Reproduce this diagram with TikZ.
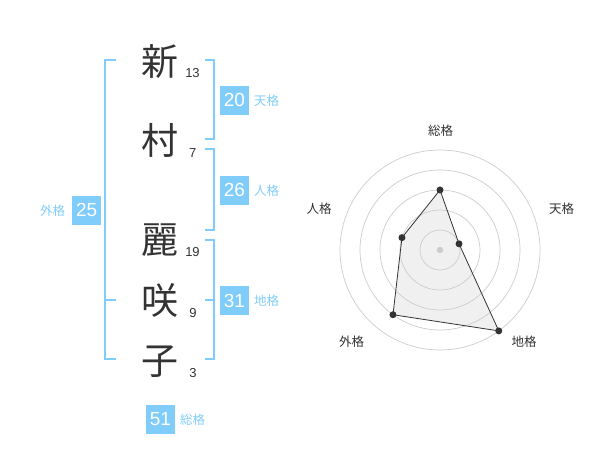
\documentclass[tikz,border=0pt]{standalone}
\usepackage{fontspec}
\setmainfont{Liberation Sans}
\newfontfamily\jfont{Noto Sans CJK JP}
\usetikzlibrary{calc, positioning}

\definecolor{kakublue}{RGB}{128, 204, 250}
\definecolor{inkgray}{RGB}{51, 51, 51}
\definecolor{ringgray}{RGB}{204, 204, 204}

\tikzset{
  kanji/.style = {font = \jfont\fontsize{37}{37}\selectfont, text = inkgray, inner sep = 0},
  strokes/.style = {font = \fontsize{13}{13}\selectfont, text = inkgray, inner sep = 0},
  kakubox/.style = {fill = kakublue, text = white, minimum size = 28.5pt, inner sep = 0, font = \fontsize{19}{19}\selectfont},
  kakulabel/.style = {text = kakublue, font = \jfont\fontsize{12.5}{12.5}\selectfont, inner sep = 0},
  bracket/.style = {kakublue, line width = 1.6pt},
  axislabel/.style = {text = inkgray, font = \jfont\fontsize{12.5}{12.5}\selectfont, inner sep = 0},
  dot/.style = {circle, fill = inkgray, inner sep = 0, minimum size = 7pt}
}

\begin{document}
\begin{tikzpicture}[x = 1pt, y = -1pt]
\useasboundingbox (0, 0) rectangle (600, 470);

% name
\node[kanji] (k1) at (159.5, 61.5) {新};
\node[kanji] (k2) at (159.5, 140) {村};
\node[kanji] (k3) at (159.5, 240) {麗};
\node[kanji] (k4) at (160, 300) {咲};
\node[kanji] (k5) at (160, 361.5) {子};

\node[strokes] (s1) at (192.5, 72.7) {13};
\node[strokes] (s2) at (192.8, 152.7) {7};
\node[strokes] (s3) at (192.5, 252.5) {19};
\node[strokes] (s4) at (193, 312.7) {9};
\node[strokes] (s5) at (193, 373) {3};

% brackets
\draw[bracket] (205, 60) -- (214, 60) -- (214, 139.3) -- (205, 139.3);
\draw[bracket] (205, 149.3) -- (214, 149.3) -- (214, 230) -- (205, 230);
\draw[bracket] (205, 240) -- (214, 240) -- (214, 359.3) -- (205, 359.3);
\draw[bracket] (205, 300) -- (214, 300);
\draw[bracket] (115.7, 60) -- (105, 60) -- (105, 359.3) -- (115.7, 359.3);
\draw[bracket] (105, 300) -- (115.7, 300);

\node[kakubox] (ten) at (234.5, 100.3) {20};
\node[kakulabel, right = 5pt of ten] (tenl) {天格};
\node[kakubox] (jin) at (234.5, 190.3) {26};
\node[kakulabel, right = 5pt of jin] (jinl) {人格};
\node[kakubox] (chi) at (234.5, 300.7) {31};
\node[kakulabel, right = 5pt of chi] (chil) {地格};
\node[kakubox] (gai) at (86.7, 210.3) {25};
\node[kakulabel, left = 7pt of gai] (gail) {外格};
\node[kakubox] (sou) at (160.5, 419.3) {51};
\node[kakulabel, right = 5pt of sou] (soul) {総格};

% radar
\begin{scope}[shift = {(440, 250)}]
\coordinate (c) at (0, 0);
\coordinate (p1) at (-90:60);
\coordinate (p2) at (-18:20);
\coordinate (p3) at (54:100);
\coordinate (p4) at (126:80);
\coordinate (p5) at (198:40);
\fill[black!6] (p1) -- (p2) -- (p3) -- (p4) -- (p5) -- cycle;
\foreach \r in {20, 40, 60, 80, 100}
  \draw[ringgray, line width = 0.7pt] (c) circle (\r);
\fill[ringgray] (c) circle (3.2);
\draw[inkgray, line width = 0.8pt] (p1) -- (p2) -- (p3) -- (p4) -- (p5) -- cycle;
\foreach \p in {p1, p2, p3, p4, p5}
  \node[dot] at (\p) {};
\end{scope}

\node[axislabel] (a1) at (440.7, 130.7) {総格};
\node[axislabel] (a2) at (561.7, 208.3) {天格};
\node[axislabel] (a3) at (524, 341.7) {地格};
\node[axislabel] (a4) at (351.7, 341.7) {外格};
\node[axislabel] (a5) at (319, 208.3) {人格};
\end{tikzpicture}
\end{document}
